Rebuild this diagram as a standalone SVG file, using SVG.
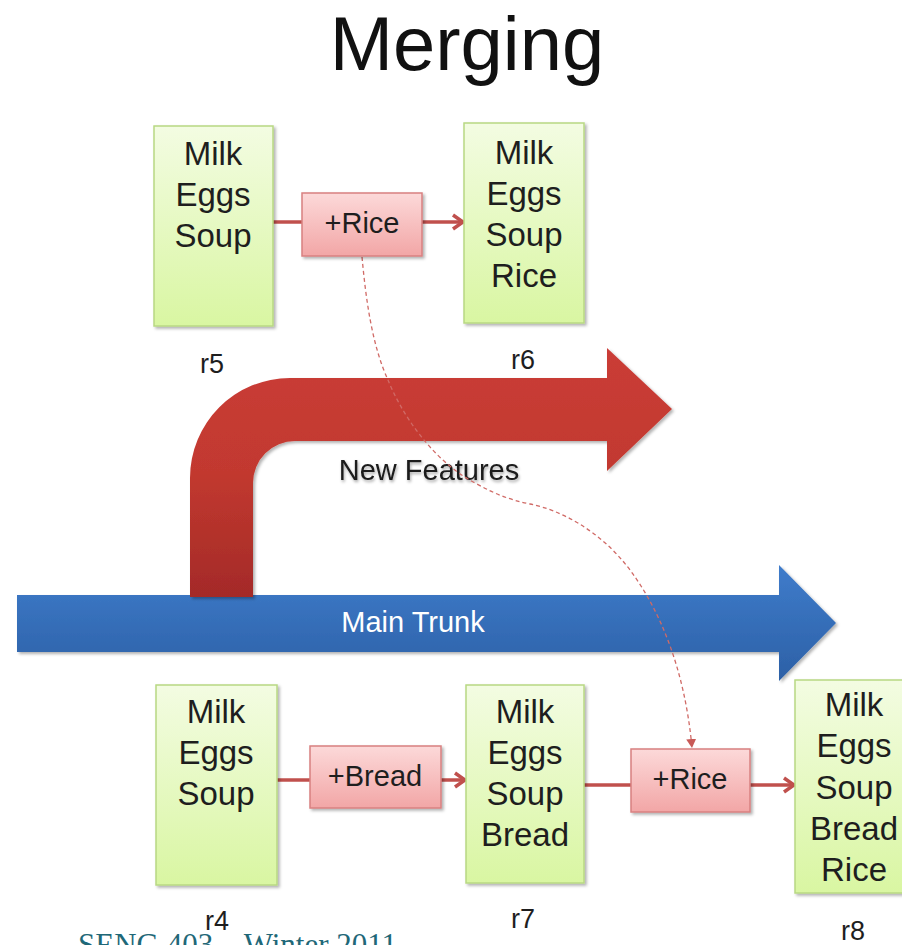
<svg xmlns="http://www.w3.org/2000/svg" width="902" height="945" viewBox="0 0 902 945">
<defs>
<linearGradient id="gGreen" x1="0" y1="0" x2="0" y2="1">
<stop offset="0" stop-color="#f3fce2"/>
<stop offset="1" stop-color="#d9f6a2"/>
</linearGradient>
<linearGradient id="gPink" x1="0" y1="0" x2="0" y2="1">
<stop offset="0" stop-color="#fcd9d9"/>
<stop offset="1" stop-color="#f2a6a6"/>
</linearGradient>
<linearGradient id="gRed" x1="0" y1="0" x2="0" y2="1">
<stop offset="0" stop-color="#ca3c37"/>
<stop offset="0.5" stop-color="#c2392f"/>
<stop offset="1" stop-color="#a42a28"/>
</linearGradient>
<linearGradient id="gBlue" x1="0" y1="0" x2="0" y2="1">
<stop offset="0" stop-color="#3f7ccb"/>
<stop offset="1" stop-color="#2c60a6"/>
</linearGradient>
<filter id="shadow" x="-10%" y="-10%" width="130%" height="130%">
<feDropShadow dx="2" dy="2" stdDeviation="1.5" flood-color="#000" flood-opacity="0.3"/>
</filter>
<filter id="tshadow" x="-10%" y="-30%" width="120%" height="160%">
<feDropShadow dx="1" dy="2" stdDeviation="1.5" flood-color="#000" flood-opacity="0.35"/>
</filter>
<marker id="openArrow" markerUnits="userSpaceOnUse" markerWidth="16" markerHeight="18" refX="13" refY="9" orient="auto">
<path d="M3,2 L13,9 L3,16" fill="none" stroke="#c0504d" stroke-width="3.5"/>
</marker>
<marker id="dashArrow" markerUnits="userSpaceOnUse" markerWidth="10" markerHeight="10" refX="9" refY="5" orient="auto">
<path d="M0,0 L9,5 L0,10 Z" fill="#c85a57"/>
</marker>
</defs>
<style>
.box{fill:url(#gGreen);stroke:#b8d883;stroke-width:1.5;filter:url(#shadow)}
.chg{fill:url(#gPink);stroke:#d88080;stroke-width:1.5;filter:url(#shadow)}
.t{font-family:"Liberation Sans",Arial,sans-serif;font-size:33px;fill:#1e1e1e;text-anchor:middle}
.tc{font-family:"Liberation Sans",Arial,sans-serif;font-size:29px;fill:#1e1e1e;text-anchor:middle}
.lbl{font-family:"Liberation Sans",Arial,sans-serif;font-size:27px;fill:#1e1e1e;text-anchor:middle}
.conn{fill:none;stroke:#c0504d;stroke-width:3.5}
.dash{fill:none;stroke:#d06a66;stroke-width:1.3;stroke-dasharray:4 3}
</style>
<rect width="902" height="945" fill="#ffffff"/>

<text x="78" y="955" font-family="Liberation Serif,Times New Roman,serif" font-size="31" fill="#1f6878">SENG  403 – Winter 2011</text>

<text x="467" y="70" font-family="Liberation Sans,Arial,sans-serif" font-size="76" fill="#111" text-anchor="middle">Merging</text>

<g id="main-trunk">
<path d="M17,595 L779,595 L779,565 L836,623 L779,681 L779,652 L17,652 Z" fill="url(#gBlue)" filter="url(#shadow)"/>
<text x="413" y="632" font-family="Liberation Sans,Arial,sans-serif" font-size="29" fill="#ffffff" text-anchor="middle">Main Trunk</text>
</g>

<g id="new-features">
<path d="M190,597 L190,478 A100,100 0 0 1 290,378 L607,378 L607,348 L672,409 L607,471 L607,441 L295,441 A42,42 0 0 0 253,483 L253,597 Z" fill="url(#gRed)" filter="url(#shadow)"/>
<text x="429" y="480" font-family="Liberation Sans,Arial,sans-serif" font-size="29" fill="#1a1a1a" text-anchor="middle" filter="url(#tshadow)">New Features</text>
</g>

<g id="connectors">
<path class="conn" d="M273,222 L302,222"/>
<path class="conn" d="M422,222 L463,222" marker-end="url(#openArrow)"/>
<path class="conn" d="M277,780 L310,780"/>
<path class="conn" d="M441,780 L465,780" marker-end="url(#openArrow)"/>
<path class="conn" d="M584,785 L631,785"/>
<path class="conn" d="M750,785 L794,785" marker-end="url(#openArrow)"/>
<path class="dash" d="M362,257 C366,300 372,345 388,380 C400,410 430,460 477,484 C495,494 510,500 530,504 C560,510 600,530 630,570 C660,610 685,670 692,748" marker-end="url(#dashArrow)"/>
</g>

<g id="r5">
<rect class="box" x="154" y="126" width="119" height="200"/>
<text class="t" x="213" y="165">Milk</text>
<text class="t" x="213" y="206">Eggs</text>
<text class="t" x="213" y="247">Soup</text>
<text class="lbl" x="212" y="373">r5</text>
</g>

<g id="change-rice-top">
<rect class="chg" x="302" y="193" width="120" height="63"/>
<text class="tc" x="362" y="233">+Rice</text>
</g>

<g id="r6">
<rect class="box" x="464" y="123" width="120" height="200"/>
<text class="t" x="524" y="164">Milk</text>
<text class="t" x="524" y="205">Eggs</text>
<text class="t" x="524" y="246">Soup</text>
<text class="t" x="524" y="287">Rice</text>
<text class="lbl" x="523" y="369">r6</text>
</g>

<g id="r4">
<rect class="box" x="156" y="685" width="121" height="200"/>
<text class="t" x="216" y="723">Milk</text>
<text class="t" x="216" y="764">Eggs</text>
<text class="t" x="216" y="805">Soup</text>
<text class="lbl" x="217" y="930">r4</text>
</g>

<g id="change-bread">
<rect class="chg" x="310" y="746" width="131" height="62"/>
<text class="tc" x="375" y="786">+Bread</text>
</g>

<g id="r7">
<rect class="box" x="466" y="685" width="118" height="198"/>
<text class="t" x="525" y="723">Milk</text>
<text class="t" x="525" y="764">Eggs</text>
<text class="t" x="525" y="805">Soup</text>
<text class="t" x="525" y="846">Bread</text>
<text class="lbl" x="523" y="928">r7</text>
</g>

<g id="change-rice-bottom">
<rect class="chg" x="631" y="749" width="119" height="63"/>
<text class="tc" x="690" y="789">+Rice</text>
</g>

<g id="r8">
<rect class="box" x="795" y="680" width="118" height="213"/>
<text class="t" x="854" y="716">Milk</text>
<text class="t" x="854" y="757">Eggs</text>
<text class="t" x="854" y="799">Soup</text>
<text class="t" x="854" y="840">Bread</text>
<text class="t" x="854" y="881">Rice</text>
<text class="lbl" x="853" y="940">r8</text>
</g>
</svg>
